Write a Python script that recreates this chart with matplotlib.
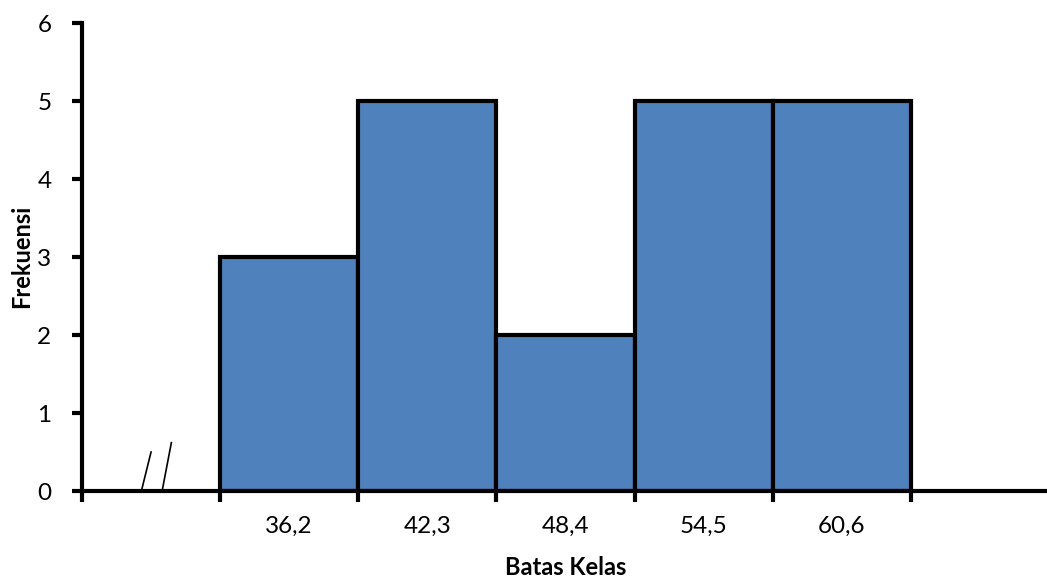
import numpy as np
import matplotlib.pyplot as plt

# kelas (batas kelas) dan frekuensinya
kelas = ['', '36,2', '42,3', '48,4', '54,5', '60,6', '']
frekuensi = [0, 3, 5, 2, 5, 5, 0]
y_ticks = [0, 1, 2, 3, 4, 5, 6]

plt.rcParams['font.family'] = ['Lato', 'DejaVu Sans']

fig = plt.figure(figsize=(10.47, 5.78), dpi=100)
ax = fig.add_axes([0.0783, 0.1505, 0.9217, 0.8095])

x = np.arange(len(kelas))
# hanya gambar kelas yang terisi
isi = [i for i in x if frekuensi[i] > 0]
ax.bar([x[i] + 0.5 for i in isi], [frekuensi[i] for i in isi], width=1.0,
       color='#4F81BD', edgecolor='black', linewidth=3, zorder=2)

ax.set_xlim(0, 6.985)
ax.set_ylim(0, 6)

# garis patah (//) di kelas pertama
ax.plot([0.43, 0.50], [0, 0.50], c='k', lw=1.2, zorder=3, clip_on=False)
ax.plot([0.58, 0.647], [0, 0.62], c='k', lw=1.2, zorder=3, clip_on=False)

# tick mayor di batas kelas, label di tengah kelas
ax.set_xticks(np.arange(0, 7))
ax.set_xticklabels([])
ax.set_xticks(x + 0.5, minor=True)
ax.set_xticklabels(kelas, minor=True)
ax.tick_params(axis='x', which='major', direction='out', length=8, width=3)
ax.tick_params(axis='x', which='minor', length=0, pad=18, labelsize=17.5)

ax.set_yticks(y_ticks)
ax.tick_params(axis='y', direction='out', length=7, width=3, pad=15, labelsize=17.5)

for s in ['top', 'right']:
    ax.spines[s].set_visible(False)
for s in ['left', 'bottom']:
    ax.spines[s].set_linewidth(3)
    ax.spines[s].set_capstyle('projecting')

fig.text(0.54, 0.019, 'Batas Kelas', fontsize=17, fontweight='bold',
         ha='center', va='center')
fig.text(0.021, 0.557, 'Frekuensi', fontsize=17, fontweight='bold',
         ha='center', va='center', rotation=90)

fig.savefig('out.png', dpi=100)
